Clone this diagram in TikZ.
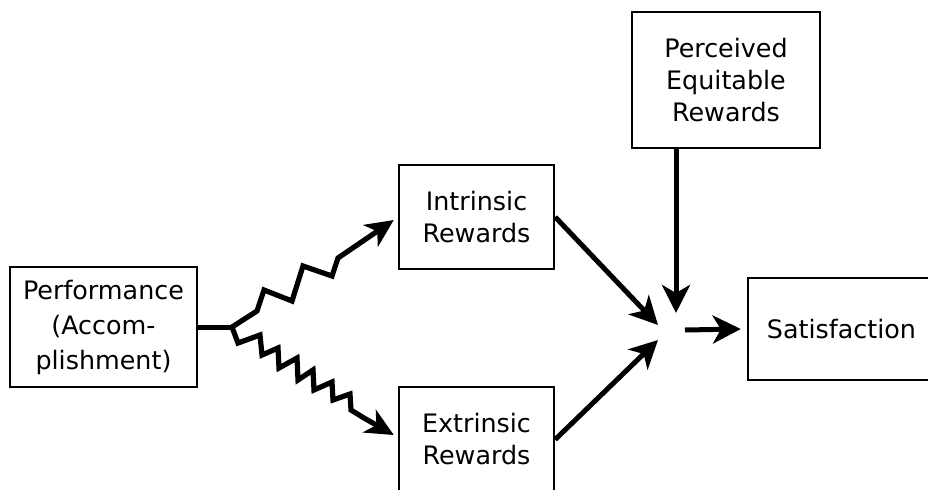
\documentclass[tikz,border=0pt]{standalone}
\usepackage{fontspec}
\setmainfont{DejaVu Sans}
\usetikzlibrary{arrows.meta,calc}
\begin{document}
\begin{tikzpicture}[x=0.5pt,y=-0.5pt,
  box/.style={draw,line width=1.2pt,align=center,inner sep=0pt,font=\fontsize{12.7}{16}\selectfont},
  conn/.style={line width=2.5pt,-{Stealth[length=14pt,width=14pt,inset=4pt]}},
  zig/.style={line width=2.6pt,line join=miter,-{Stealth[length=14pt,width=13pt,inset=4pt]}}]
\clip (0,0) rectangle (928,489);
\node[box,minimum width=93.5pt,minimum height=60pt,font=\fontsize{12.7}{17.5}\selectfont] (perf) at (103.5,327) {Performance\\(Accom-\\plishment)};
\node[box,minimum width=77.5pt,minimum height=52pt] (intr) at (476.5,217) {Intrinsic\\Rewards};
\node[box,minimum width=77.5pt,minimum height=52.5pt] (extr) at (476.5,439.5) {Extrinsic\\Rewards};
\node[box,minimum width=94pt,minimum height=68pt] (perc) at (726,80) {Perceived\\Equitable\\Rewards};
\node[box,minimum width=93.5pt,minimum height=51pt] (sat) at (841.5,329) {Satisfaction};
\coordinate (J) at (232,327);
\coordinate (tA) at (658,325);
\coordinate (tB) at (658,340);
\coordinate (tC) at (676,313);
\coordinate (s0) at (685,330);
\draw[line width=2.5pt] (perf.east) -- (J);
\draw[zig] (J) -- (257,311) -- (264,290) -- (292,301) -- (303,266) -- (332,276) -- (338,258) -- ([xshift=-2pt,yshift=-1.5pt]intr.west);
\draw[zig] (J) -- (238,343) -- (260,335) -- (262,355) -- (278,348) -- (279,368) -- (297,358) -- (298,380) -- (313,370) -- (314,390) -- (332,382) -- (333,400) -- (350,394) -- (351,410) -- (364,418) -- ([xshift=-2pt,yshift=2.25pt]extr.west);
\draw[conn] (intr.east) -- (tA);
\draw[conn] (extr.east) -- (tB);
\draw[conn] ([xshift=-25pt]perc.south) -- (tC);
\draw[conn] (s0) -- ([xshift=-3pt]sat.west);
\end{tikzpicture}
\end{document}
